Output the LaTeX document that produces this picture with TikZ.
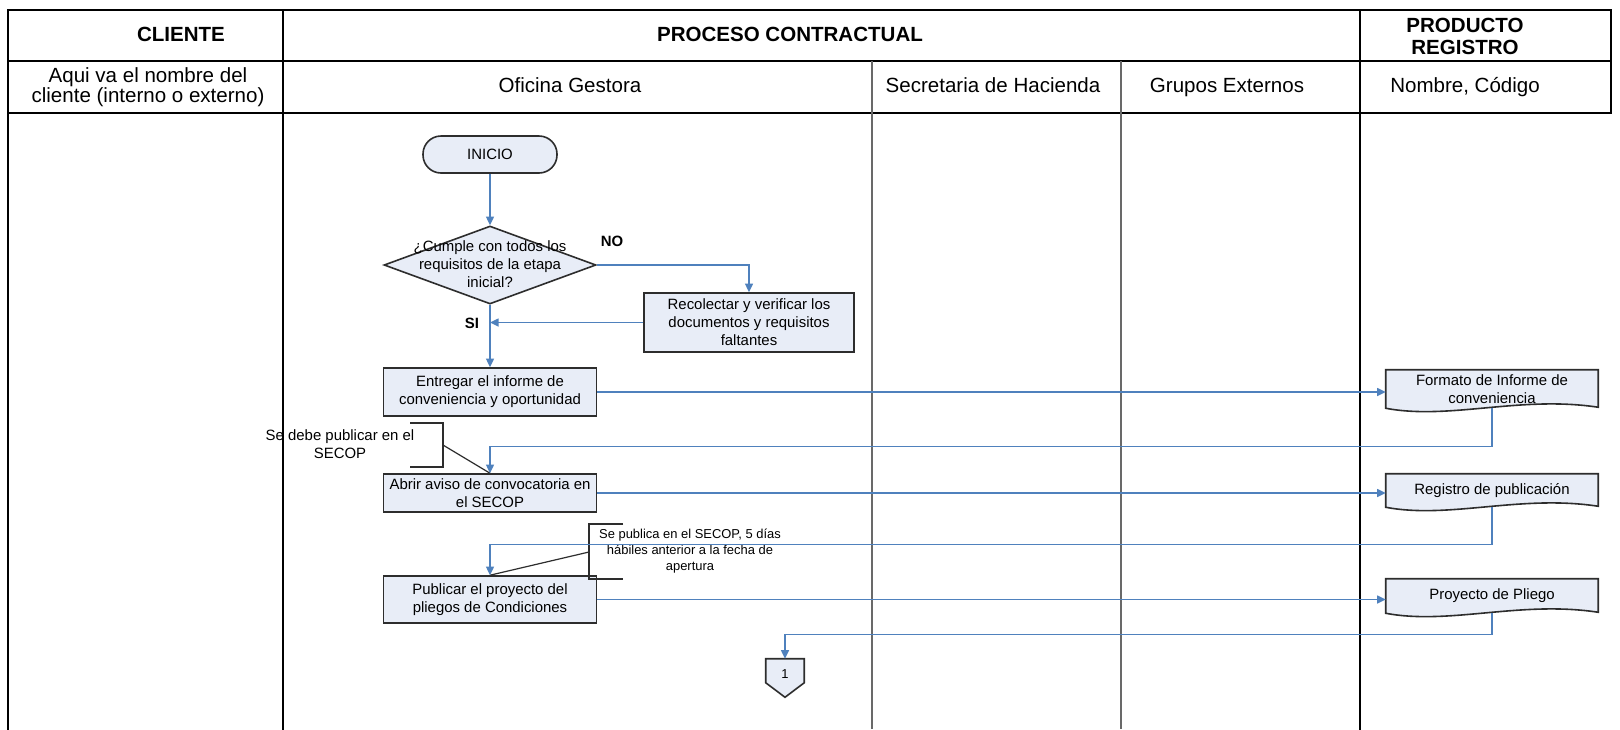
\documentclass[tikz,border=0pt]{standalone}
\usepackage{fontspec}
\setmainfont{Liberation Sans}
\usetikzlibrary{arrows.meta,shapes.geometric,calc,backgrounds}

\definecolor{boxfill}{RGB}{232,237,247}
\definecolor{boxline}{RGB}{45,45,45}
\definecolor{flowblue}{RGB}{79,129,189}
\definecolor{gridgray}{RGB}{105,105,105}

\begin{document}
\begin{tikzpicture}[x=0.75pt,y=-0.75pt,
  grid/.style={line width=2.2pt,black,line cap=rect},
  gridthin/.style={line width=1.1pt,gridgray},
  hdr/.style={font=\fontsize{15.4}{16.5}\selectfont\bfseries,align=center,inner sep=0pt},
  hdrsub/.style={font=\fontsize{15.4}{13.9}\selectfont,align=center,inner sep=0pt},
  hdrone/.style={hdrsub,text height=11pt,text depth=3pt},
  txt/.style={font=\fontsize{11.2}{13.5}\selectfont,align=center},
  small/.style={font=\fontsize{9.7}{12}\selectfont,align=center},
  lbl/.style={font=\fontsize{11.2}{13.5}\selectfont\bfseries,inner sep=0pt},
  stepbox/.style={draw=boxline,line width=1.2pt,fill=boxfill,txt,inner sep=2pt},
  startbox/.style={stepbox,rounded corners=13.5pt},
  decision/.style={diamond,draw=boxline,line width=1.2pt,fill=boxfill,inner sep=0pt},
  docbox/.style={txt,inner sep=0pt,minimum width=159pt},
  docshape/.style={draw=boxline,line width=1.2pt,fill=boxfill},
  flow/.style={draw=flowblue,line width=1.1pt,-{Triangle[length=6.5pt,width=6pt]}},
  note/.style={draw=boxline,line width=0.9pt},
]
\useasboundingbox (0,0) rectangle (1620,729);

% side note that the lane border runs across
\node[txt] (n1) at (340,444) {Se debe publicar en el\\SECOP};

% ---------- swimlane table ----------
\draw[grid] (8,10) -- (1611,10);
\draw[grid] (8,61) -- (1611,61);
\draw[grid] (8,113) -- (1611,113);
\draw[grid] (8,10) -- (8,729);
\draw[grid] (283,10) -- (283,729);
\draw[grid] (1360,10) -- (1360,729);
\draw[grid] (1611,10) -- (1611,113);
\draw[gridthin] (872,61) -- (872,729);
\draw[gridthin] (1121,61) -- (1121,729);

\node[hdr] (hcli) at (181,34) {CLIENTE};
\node[hdr] (hproc) at (790,34) {PROCESO CONTRACTUAL};
\node[hdr] (hprod) at (1465,36) {PRODUCTO\\REGISTRO};
\node[hdrsub] (scli) at (148,87) {Aqui va el nombre del\\cliente (interno o externo)};
\node[hdrone] (sofi) at (570,87) {Oficina Gestora};
\node[hdrone] (ssec) at (993,87) {Secretaria de Hacienda};
\node[hdrone] (sgru) at (1227,87) {Grupos Externos};
\node[hdrone] (snom) at (1465,87) {Nombre, Código};

% ---------- process steps ----------
\node[startbox,minimum width=100.5pt,minimum height=27.75pt] (inicio) at (490,154.5) {INICIO};
\node[decision,minimum width=159pt,minimum height=58.5pt] (dec) at (490,265) {};
\node[txt] (dect) at (490,264) {¿Cumple con todos los\\requisitos de la etapa\\inicial?};
\node[stepbox,minimum width=157.5pt,minimum height=44.25pt] (reco) at (749,322.5)
  {Recolectar y verificar los\\documentos y requisitos\\faltantes};
\node[stepbox,minimum width=159.75pt,minimum height=36pt] (ent) at (490,392)
  {Entregar el informe de\\conveniencia y oportunidad};
\node[stepbox,minimum width=159.75pt,minimum height=28.5pt,inner sep=0pt] (abrir) at (490,493)
  {Abrir aviso de convocatoria en\\el SECOP};
\node[stepbox,minimum width=159.75pt,minimum height=35.25pt] (pub) at (490,599.5)
  {Publicar el proyecto del\\pliegos de Condiciones};

\node[lbl] (no) at (612,241) {NO};
\node[lbl] (si) at (472,323) {SI};

% ---------- records ----------
\node[docbox,minimum height=28.5pt] (d1) at (1492,389) {Formato de Informe de\\conveniencia};
\node[docbox,minimum height=24.75pt] (d2) at (1492,490.5) {Registro de publicación};
\node[docbox,minimum height=25.5pt] (d3) at (1492,596) {Proyecto de Pliego};

% off-page connector
\node[small,inner sep=0pt,minimum width=28.5pt,minimum height=28.5pt] (c1) at (785,678) {\raisebox{6pt}{1}};

\begin{scope}[on background layer]
  \fill[white] (0,0) rectangle (1620,729);
  \foreach \d in {d1,d2,d3}
    \draw[docshape] (\d.south west) -- (\d.north west) -- (\d.north east)
      -- ($(\d.south east)+(0,-1)$)
      .. controls ($(\d.south east)+(-78,-13)$) and ($(\d.south west)+(64,12)$) .. (\d.south west)
      -- cycle;
  \draw[docshape] (c1.north west) -- (c1.north east) -- ($(c1.north east)+(0,24)$)
    -- (c1.south) -- ($(c1.north west)+(0,24)$) -- cycle;
\end{scope}

% ---------- notes ----------
\node[small] (n2) at (690,551) {Se publica en el SECOP, 5 días\\hábiles anterior a la fecha de\\apertura};
\draw[note] (410,423) -- (443,423) -- (443,467) -- (410,467);
\draw[note] (443,445) -- (abrir.north);
\draw[note] (623,524) -- (589,524) -- (589,579) -- (623,579);
\draw[note] (589,552) -- (pub.north);

% ---------- connectors ----------
\draw[flow] (inicio.south) -- (dec.north);
\draw[flow] (dec.east) -| (reco.north);
\draw[flow] (reco.west) -- (reco.west -| dec.south);
\draw[flow] (dec.south) -- (ent.north);
\draw[flow] (ent.east) -- (ent.east -| d1.west);
\draw[flow] (d1.south) -- ++(0,38) -| (abrir.north);
\draw[flow] (abrir.east) -- (abrir.east -| d2.west);
\draw[flow] (d2.south) -- ++(0,37) -| (pub.north);
\draw[flow] (pub.east) -- (pub.east -| d3.west);
\draw[flow] (d3.south) -- ++(0,21) -| (c1.north);
\end{tikzpicture}
\end{document}
